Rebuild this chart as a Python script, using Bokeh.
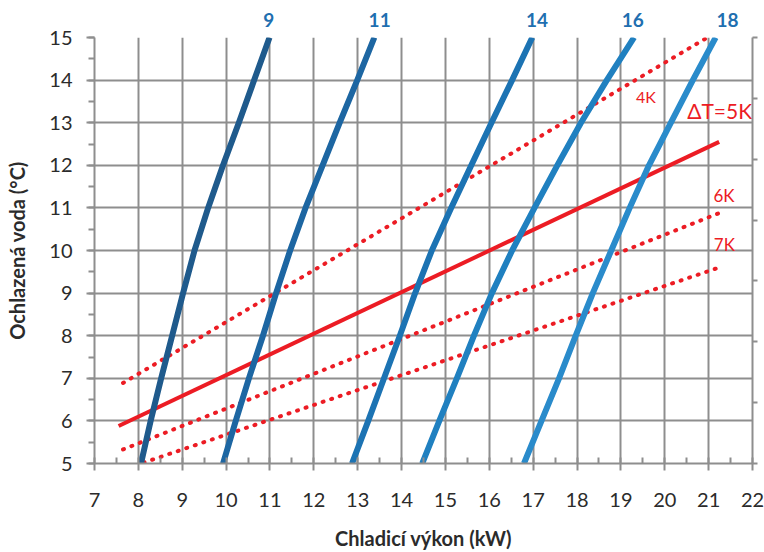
from bokeh.plotting import figure
from bokeh.models import Range1d, LinearAxis, FixedTicker, SingleIntervalTicker
from bokeh.embed import file_html
from bokeh.resources import INLINE
from bokeh.core.properties import value

# ---- data ----
water_temp = [5, 6, 7, 8, 9, 10, 11, 12, 13, 14, 15]
cap_9 = [8.06, 8.28, 8.52, 8.77, 9.02, 9.28, 9.59, 9.93, 10.29, 10.64, 10.99]
cap_11 = [9.93, 10.22, 10.52, 10.84, 11.14, 11.46, 11.81, 12.20, 12.59, 12.99, 13.38]
cap_14 = [12.87, 13.24, 13.60, 13.96, 14.31, 14.69, 15.13, 15.59, 16.05, 16.52, 16.98]
cap_16 = [14.47, 14.86, 15.26, 15.65, 16.06, 16.52, 17.03, 17.55, 18.09, 18.68, 19.30]
cap_18 = [16.79, 17.19, 17.59, 17.97, 18.36, 18.78, 19.20, 19.64, 20.14, 20.64, 21.16]
series_names = ["9", "11", "14", "16", "18"]
series_colors = ["#1f5a8c", "#1d66a2", "#1c73b3", "#2080c0", "#2a8bcb"]
series_label_x = [10.97, 13.50, 17.09, 19.27, 21.43]

dt4_x = [7.65, 20.94]
dt4_y = [6.89, 14.98]
dt5_x = [7.55, 21.24]
dt5_y = [5.88, 12.55]
dt6_x = [7.65, 21.22]
dt6_y = [5.33, 10.87]
dt7_x = [8.12, 21.18]
dt7_y = [5.02, 9.58]
dt_names = ["4K", "ΔT=5K", "6K", "7K"]
dt_label_x = [19.57, 21.25, 21.35, 21.36]
dt_label_y = [13.62, 13.29, 11.30, 10.15]
dt_label_size = ["16px", "21px", "17px", "17px"]

right_ticks = [0, 1, 2, 3, 4, 5, 6, 7]

x_title = "Chladicí výkon (kW)"
y_title = "Ochlazená voda (°C)"

RED = "#ec1c24"
GRID = "#8e8e8e"
TXT = "#2b2b2b"
FONT = "Lato"

p = figure(width=764, height=552, x_range=Range1d(7, 22), y_range=Range1d(5, 15),
           output_backend="svg", toolbar_location=None,
           min_border_left=94, min_border_right=12, min_border_top=37, min_border_bottom=89)
p.outline_line_color = None
p.background_fill_color = "white"

# axes
p.xaxis.ticker = SingleIntervalTicker(interval=1, num_minor_ticks=2)
p.yaxis.ticker = SingleIntervalTicker(interval=1, num_minor_ticks=2)
for ax in (p.xaxis[0], p.yaxis[0]):
    ax.axis_line_color = GRID
    ax.axis_line_width = 2
    ax.major_tick_line_color = GRID
    ax.major_tick_line_width = 2
    ax.minor_tick_line_color = GRID
    ax.minor_tick_line_width = 2
    ax.major_label_text_font = FONT
    ax.major_label_text_font_size = "20px"
    ax.major_label_text_color = TXT
    ax.axis_label_text_font = FONT
    ax.axis_label_text_font_style = "bold"
    ax.axis_label_text_font_size = "20px"
    ax.axis_label_text_color = TXT

p.xaxis.major_tick_in = 0
p.xaxis.major_tick_out = 7
p.xaxis.minor_tick_in = 6
p.xaxis.minor_tick_out = 0
p.xaxis.major_label_standoff = 22
p.xaxis.axis_label = x_title
p.xaxis.axis_label_standoff = 16

p.yaxis.major_tick_in = 0
p.yaxis.major_tick_out = 8
p.yaxis.minor_tick_in = 0
p.yaxis.minor_tick_out = 6
p.yaxis.major_label_standoff = 14
p.yaxis.axis_label = y_title
p.yaxis.axis_label_standoff = 17

# right-hand axis (ticks only)
p.extra_y_ranges = {"r": Range1d(0, 7)}
rax = LinearAxis(y_range_name="r", ticker=FixedTicker(ticks=right_ticks),
                 major_label_overrides={t: "" for t in right_ticks},
                 major_label_standoff=0,
                 axis_line_color=GRID, axis_line_width=2,
                 major_tick_line_color=GRID, major_tick_line_width=2,
                 major_tick_in=0, major_tick_out=5, minor_tick_line_color=None)
p.add_layout(rax, "right")

# series names above the plot (top axis)
tax = LinearAxis(ticker=FixedTicker(ticks=series_label_x),
                 major_label_overrides={x: n for x, n in zip(series_label_x, series_names)},
                 axis_line_color=None, major_tick_line_color=None, minor_tick_line_color=None,
                 major_label_standoff=5, major_label_text_color="#1f6fb0",
                 major_label_text_font=FONT, major_label_text_font_style="bold",
                 major_label_text_font_size="19px")
p.add_layout(tax, "above")

p.xgrid.grid_line_color = GRID
p.xgrid.grid_line_width = 2
p.ygrid.grid_line_color = GRID
p.ygrid.grid_line_width = 2

# red Delta-T lines
p.line(dt4_x, dt4_y, line_color=RED, line_width=4, line_dash="1 8", line_cap="round")
p.line(dt6_x, dt6_y, line_color=RED, line_width=4, line_dash="1 8", line_cap="round")
p.line(dt7_x, dt7_y, line_color=RED, line_width=4, line_dash="1 8", line_cap="round")
p.line(dt5_x, dt5_y, line_color=RED, line_width=4)

# blue capacity curves
for xs, col in zip([cap_9, cap_11, cap_14, cap_16, cap_18], series_colors):
    p.line(xs, water_temp, line_color=col, line_width=6, line_join="round")

# red labels
for name, lx, ly, fs in zip(dt_names, dt_label_x, dt_label_y, dt_label_size):
    p.text(x=[lx], y=[ly], text=[name], text_color=RED, text_font=value(FONT),
           text_font_size=fs, text_align="center", text_baseline="middle")

open("out.html", "w").write(file_html(p, INLINE))
